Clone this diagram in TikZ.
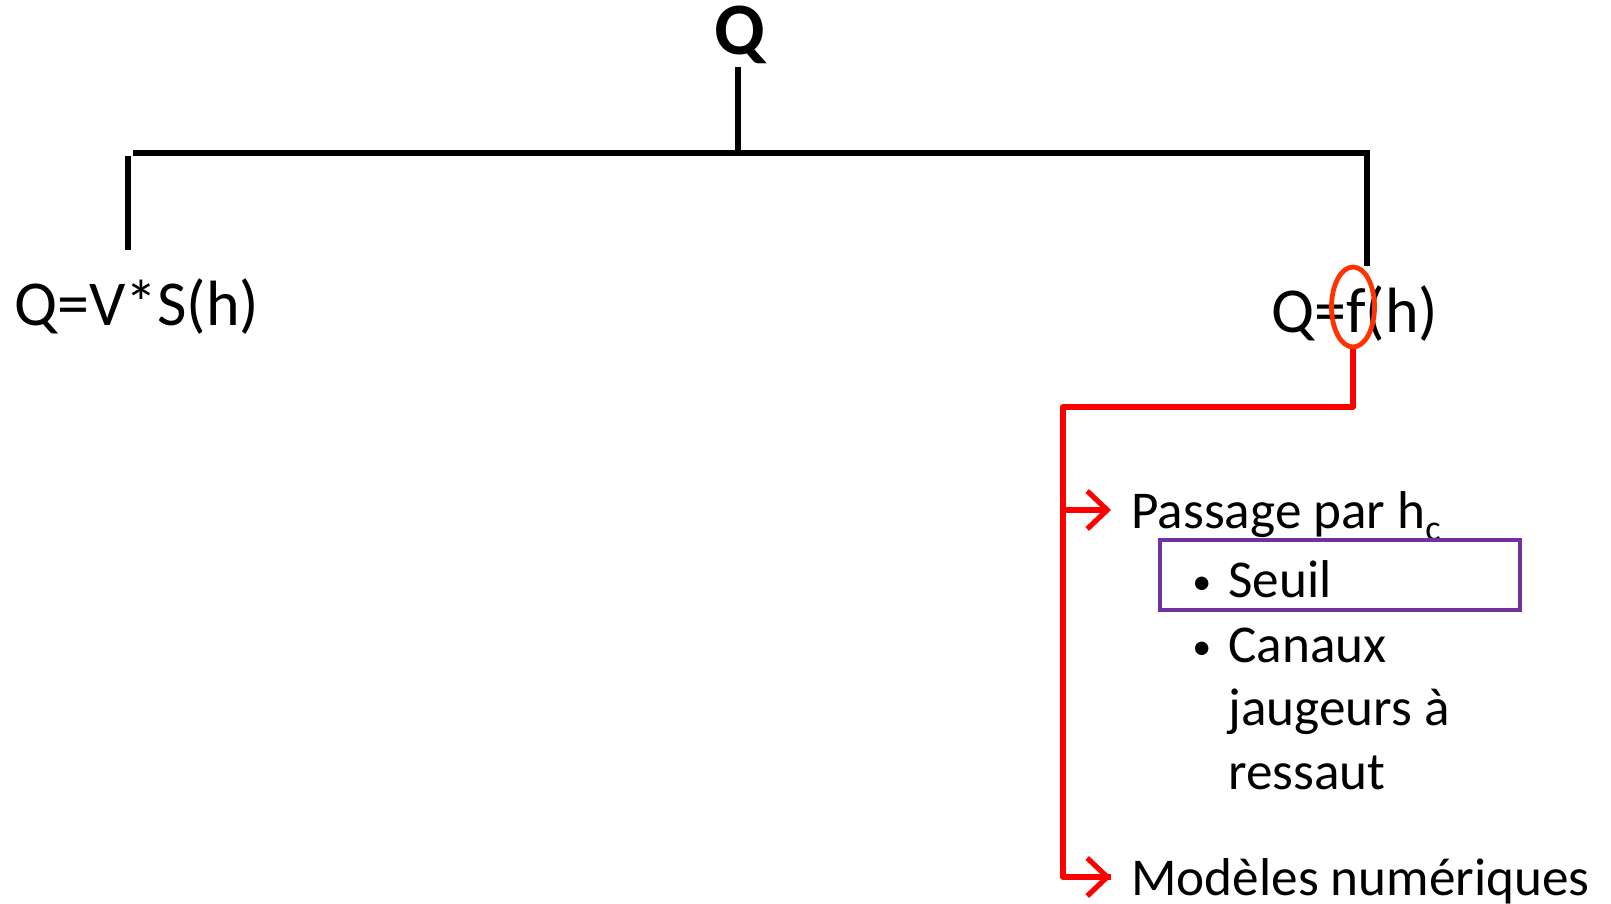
\documentclass[tikz,border=0pt]{standalone}
\usepackage{fontspec}
\setmainfont{Carlito}
\usetikzlibrary{arrows.meta,shapes.geometric}
\definecolor{linkred}{RGB}{255,0,0}
\definecolor{ovalred}{RGB}{255,51,0}
\definecolor{boxpurple}{RGB}{112,48,160}

\tikzset{
	tree/.style={line width=2.7pt,black},
	link/.style={line width=2.6pt,linkred,line join=round},
	linkarrow/.style={link,-{Straight Barb[length=10pt,width=19pt]}},
	formula/.style={inner sep=0pt,anchor=base west,font=\fontsize{32}{38}\selectfont},
	item/.style={inner sep=0pt,anchor=base west,font=\fontsize{26.6}{31}\selectfont},
	bullet/.style={inner sep=0pt,anchor=base west,font=\fontsize{19}{22}\selectfont}
}

\begin{document}
\begin{tikzpicture}[x=0.5pt,y=-0.5pt]
	\useasboundingbox (0,0) rectangle (1611,904);
	% tree
	\node[inner sep=0pt,anchor=base,font=\fontsize{37}{44}\selectfont\bfseries] (qtop) at (740,55) {Q};
	\node[formula] (qvs) at (14,325) {Q=V*S(h)};
	\node[formula] (qfh) at (1271,332) {Q=f(h)};
	\coordinate (barM) at (738,153);
	\coordinate (barL) at (133,153);
	\coordinate (barR) at (1367,153);
	\draw[tree] (barM |- 0,67) -- (barM);
	\draw[tree] (barL) -- (barR) -- (1367,266);
	\draw[tree] (128,156) -- (128,250);
	% f(h) branch
	\node[ellipse,draw=ovalred,line width=2.4pt,minimum width=21.5pt,minimum height=40pt,inner sep=0pt] (fcirc) at (1353,307) {};
	\node[item] (passage) at (1131,528) {Passage par h\raisebox{-6pt}{\fontsize{18}{20}\selectfont c}};
	\node[bullet] (bul1) at (1192,594) {•};
	\node[item] (seuil) at (1228,597) {Seuil};
	\node[bullet] (bul2) at (1192,659) {•};
	\node[item] (canaux) at (1228,662) {Canaux};
	\node[item] (jaug) at (1228,725) {jaugeurs à};
	\node[item] (ressaut) at (1228,789) {ressaut};
	\node[item] (modeles) at (1131,895) {Modèles numériques};
	\draw[boxpurple,line width=2.2pt] (1160,540) rectangle (1520,610);
	\coordinate (turn) at (1063,407);
	\draw[link] (fcirc.south) |- (turn) |- ([shift={(-20,-18)}]modeles.base west);
	\draw[linkarrow] (turn |- 0,877) -- ([shift={(-20,-18)}]modeles.base west);
	\draw[linkarrow] (turn |- 0,510) -- ([shift={(-20,-18)}]passage.base west);
\end{tikzpicture}
\end{document}
